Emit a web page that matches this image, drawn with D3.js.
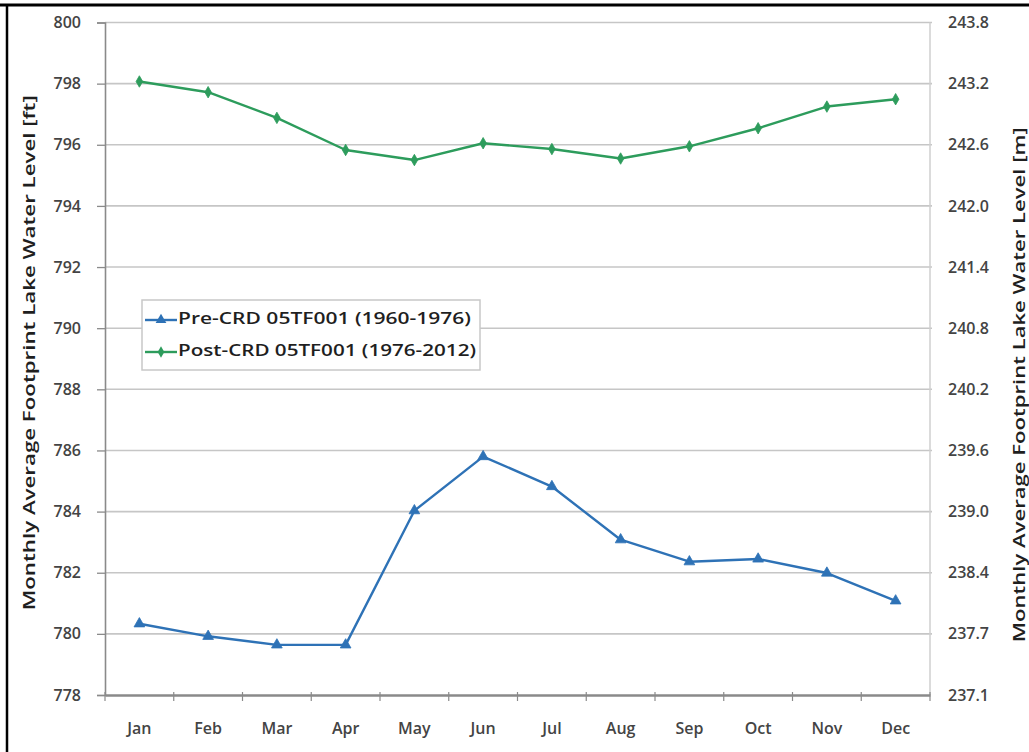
<!DOCTYPE html>
<html><head><meta charset="utf-8">
<script src="https://cdn.jsdelivr.net/npm/d3@7"></script>
<style>body{margin:0;background:#fff}svg{display:block}text{font-family:"Open Sans",sans-serif}</style>
</head><body><svg id="c" width="1029" height="752"></svg>
<script>
const months = ["Jan","Feb","Mar","Apr","May","Jun","Jul","Aug","Sep","Oct","Nov","Dec"];
const preCRD = [780.33,779.92,779.64,779.64,784.03,785.80,784.82,783.08,782.36,782.45,781.99,781.08];
const postCRD = [798.07,797.72,796.88,795.83,795.50,796.05,795.86,795.55,795.95,796.54,797.25,797.49];
const ftTicks = [778,780,782,784,786,788,790,792,794,796,798,800];
const mTickLabels = ["237.1","237.7","238.4","239.0","239.6","240.2","240.8","241.4","242.0","242.6","243.2","243.8"];
const seriesNames = ["Pre-CRD 05TF001 (1960-1976)","Post-CRD 05TF001 (1976-2012)"];
const colors = ["#2e72b6","#2d9c5c"];

const svg = d3.select("#c");
const L=105, R=930, T=22.5, B=695;
const x = d3.scaleBand().domain(months).range([L,R]);
const y = d3.scaleLinear().domain([778,800]).range([B,T]);
const yR = d3.scaleOrdinal().domain(ftTicks).range(mTickLabels);

// frame
svg.append("line").attr("x1",0).attr("x2",1029).attr("y1",5).attr("y2",5).attr("stroke","#000").attr("stroke-width",3);
svg.append("line").attr("x1",7).attr("x2",7).attr("y1",4).attr("y2",752).attr("stroke","#000").attr("stroke-width",2.5);

// gridlines
svg.append("g").selectAll("line").data(ftTicks.filter(d=>d>778)).join("line")
  .attr("x1",L).attr("x2",R+2).attr("y1",d=>y(d)).attr("y2",d=>y(d))
  .attr("stroke","#c6c6c6").attr("stroke-width",1.6);
// right border
svg.append("line").attr("x1",R).attr("x2",R).attr("y1",T).attr("y2",B).attr("stroke","#cfcfcf").attr("stroke-width",1.5);

// left axis
const gl = svg.append("g").attr("transform",`translate(${L},0)`)
  .call(d3.axisLeft(y).tickValues(ftTicks).tickSize(8).tickPadding(16).tickFormat(d3.format("d")));
gl.select(".domain").attr("stroke","#8a8a8a").attr("stroke-width",1.6);
gl.selectAll(".tick line").attr("stroke","#8a8a8a").attr("stroke-width",1.3);
gl.selectAll(".tick text").attr("font-size",16).attr("font-weight",600).attr("fill","#444").attr("font-family","Open Sans");

// right axis labels
const gr = svg.append("g").attr("transform",`translate(${R},0)`)
  .call(d3.axisRight(y).tickValues(ftTicks).tickSize(0).tickPadding(18).tickFormat(d=>yR(d)));
gr.select(".domain").remove();
gr.selectAll(".tick text").attr("font-size",16).attr("font-weight",600).attr("fill","#444").attr("font-family","Open Sans");

// bottom axis
const gb = svg.append("g").attr("transform",`translate(0,${B})`)
  .call(d3.axisBottom(x).tickSize(0).tickPadding(28));
gb.select(".domain").attr("stroke","#8a8a8a").attr("stroke-width",2.6);
gb.selectAll(".tick text").attr("font-size",16).attr("font-weight",600).attr("fill","#444").attr("font-family","Open Sans");
// category boundary ticks
svg.append("g").selectAll("line").data(months.concat(["_end"])).join("line")
  .attr("x1",(d,i)=>L+i*x.step()).attr("x2",(d,i)=>L+i*x.step())
  .attr("y1",B-3).attr("y2",B+6).attr("stroke","#8a8a8a").attr("stroke-width",1.2);

// titles
svg.append("text").attr("transform",`translate(31,${(T+B)/2-6}) rotate(-90)`)
  .attr("text-anchor","middle").attr("dominant-baseline","middle")
  .attr("font-size",16.5).attr("font-weight",600).attr("fill","#1f1f1f")
  .attr("textLength",515).attr("lengthAdjust","spacingAndGlyphs")
  .text("Monthly Average Footprint Lake Water Level [ft]");
svg.append("text").attr("transform",`translate(1021,${(T+B)/2+26}) rotate(-90)`)
  .attr("text-anchor","middle").attr("dominant-baseline","middle")
  .attr("font-size",16.5).attr("font-weight",600).attr("fill","#1f1f1f")
  .attr("textLength",515).attr("lengthAdjust","spacingAndGlyphs")
  .text("Monthly Average Footprint Lake Water Level [m]");

// lines
const line = d3.line().x((d,i)=>x(months[i])+x.bandwidth()/2).y(d=>y(d));
const triangle = d3.symbol().type(d3.symbolTriangle).size(50);
const diamond = d3.symbol().type(d3.symbolDiamond).size(38);
[preCRD,postCRD].forEach((s,k)=>{
  svg.append("path").datum(s).attr("d",line).attr("fill","none")
    .attr("stroke",colors[k]).attr("stroke-width",2.4).attr("stroke-linejoin","round");
  svg.append("g").selectAll("path").data(s).join("path")
    .attr("transform",(d,i)=>`translate(${x(months[i])+x.bandwidth()/2},${y(d)})`)
    .attr("d",k===0?triangle:diamond).attr("fill",colors[k]).attr("stroke",colors[k]).attr("stroke-width",0.8);
});

// legend
const lg = svg.append("g");
lg.append("rect").attr("x",142).attr("y",300).attr("width",338).attr("height",70)
  .attr("fill","#fff").attr("stroke","#c8c8c8").attr("stroke-width",1.5);
seriesNames.forEach((n,k)=>{
  const yy = 320 + k*32;
  lg.append("line").attr("x1",145).attr("x2",177).attr("y1",yy).attr("y2",yy).attr("stroke",colors[k]).attr("stroke-width",2.4);
  lg.append("path").attr("transform",`translate(161,${yy})`).attr("d",k===0?triangle:diamond).attr("fill",colors[k]);
  lg.append("text").attr("x",178).attr("y",yy).attr("dominant-baseline","middle")
    .attr("font-size",16.5).attr("font-weight",600).attr("fill","#1f1f1f")
    .attr("textLength",k===0?293:298).attr("lengthAdjust","spacingAndGlyphs").text(n);
});
</script></body></html>
